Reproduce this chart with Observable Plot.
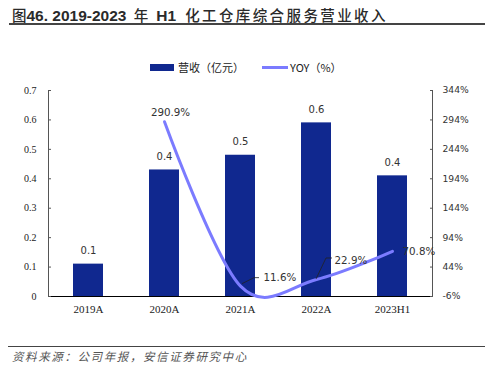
<!DOCTYPE html>
<html><head><meta charset="utf-8">
<script src="https://cdn.jsdelivr.net/npm/d3@7"></script>
<script src="https://cdn.jsdelivr.net/npm/@observablehq/plot@0.6"></script>
<style>
body{margin:0;background:#fff}
#wrap{position:relative;width:485px;height:380px;overflow:hidden;background:#fff}
#title{position:absolute;left:12px;top:4px;height:20px;line-height:20px;color:#2a2a2a;white-space:nowrap}
#title .b{font:bold 15.5px "Liberation Sans",Arial,sans-serif}
#title .c{font:500 14.5px "Noto Sans CJK SC",sans-serif}
#title .w{letter-spacing:2.4px}
#tline{position:absolute;left:9px;top:23px;width:476px;height:2px;background:#444}
#legend{position:absolute;left:150px;top:58px;height:18px;font:11px "Noto Sans CJK SC",sans-serif;color:#222;white-space:nowrap}
#legend span{position:absolute;top:0;line-height:18px}
.sw{position:absolute}
#sline{position:absolute;left:8px;top:346px;width:477px;height:1px;background:#444}
#source{position:absolute;left:12px;top:348px;font:italic 11.5px "Noto Sans CJK SC",sans-serif;color:#555;letter-spacing:1.6px;white-space:nowrap}
#chart{position:absolute;left:0;top:0}
</style></head><body><div id="wrap">
<div id="chart"></div>
<div id="title"><span class="c">图</span><span class="b">46. 2019-2023 </span><span class="c" style="margin-left:3px">年</span><span class="b" style="margin-left:8px">H1</span><span class="c w" style="margin-left:9px">化工仓库综合服务营业收入</span></div>
<div id="tline"></div>
<div id="legend">
  <div class="sw" style="left:0;top:6px;width:24px;height:7px;background:#10288f"></div>
  <span style="left:28px">营收（亿元）</span>
  <div class="sw" style="left:112px;top:8px;width:26px;height:3px;background:#7b7bff"></div>
  <span style="left:140px">YOY（%）</span>
</div>
<div id="sline"></div>
<div id="source">资料来源：公司年报，安信证券研究中心</div>
</div>
<script>
const categories = ["2019A", "2020A", "2021A", "2022A", "2023H1"];
const revenue = [0.11, 0.43, 0.48, 0.59, 0.41];
const revenueLabels = ["0.1", "0.4", "0.5", "0.6", "0.4"];
const yoy = [null, 290.9, 11.6, 22.9, 70.8];
const yoyLabels = [null, "290.9%", "11.6%", "22.9%", "70.8%"];
const leftTicks = [0, 0.1, 0.2, 0.3, 0.4, 0.5, 0.6, 0.7];
const rightTicks = [-6, 44, 94, 144, 194, 244, 294, 344];

const yMax = 0.7, rMin = -6, rMax = 344;
const toLeft = v => (v - rMin) / (rMax - rMin) * yMax;

const table = categories.map((c, i) => ({
  cat: c, rev: revenue[i], revLabel: revenueLabels[i],
  yoy: yoy[i], yoyY: yoy[i] == null ? null : toLeft(yoy[i]), yoyLabel: yoyLabels[i]
}));
const lineData = table.filter(d => d.yoy != null);
// label offsets (pixels) for the YOY labels
const yoyLabelPos = {"2020A": {dx: 6, dy: -9, anchor: "middle"}, "2021A": {dx: 23, dy: -8, anchor: "start"}, "2022A": {dx: 18, dy: -19, anchor: "start"}, "2023H1": {dx: 10, dy: 0, anchor: "start"}};

const serif = "'Liberation Serif', 'Times New Roman', serif";
const sans = "'DejaVu Sans', sans-serif";

const chart = Plot.plot({
  width: 485, height: 380,
  marginTop: 90, marginBottom: 84, marginLeft: 48, marginRight: 53,
  style: {background: "transparent", overflow: "visible"},
  x: {type: "band", domain: categories, paddingInner: 0.6, paddingOuter: 0.3},
  y: {domain: [0, yMax]},
  marks: [
    Plot.barY(table, {x: "cat", y: "rev", fill: "#10288f"}),
    Plot.frame({anchor: "left", stroke: "#555"}),
    Plot.frame({anchor: "right", stroke: "#555"}),
    Plot.ruleY([0], {stroke: "#000", strokeWidth: 1.2}),
    Plot.axisY(leftTicks, {anchor: "left", tickSize: -3, tickPadding: 15, stroke: "#555",
      tickFormat: d => d === 0 ? "0" : d3.format(".1f")(d),
      fontFamily: serif, fontSize: 10, fill: "#222", label: null}),
    Plot.axisY(rightTicks.map(toLeft), {anchor: "right", tickSize: -3, tickPadding: 13, stroke: "#555",
      tickFormat: d => Math.round(d / yMax * (rMax - rMin) + rMin) + "%",
      fontFamily: sans, fontSize: 9.2, fill: "#333", label: null}),
    Plot.axisX({tickSize: 0, tickPadding: 9, fontFamily: serif, fontSize: 11, fill: "#222", label: null}),
    Plot.text(table, {x: "cat", y: "rev", text: "revLabel", dy: -13, fontFamily: sans, fontSize: 10, fill: "#333"}),
    Plot.line(lineData, {x: "cat", y: "yoyY", stroke: "#7b7bff", strokeWidth: 3, curve: "cardinal"}),
    ...lineData.map(d => Plot.text([d], {x: "cat", y: "yoyY", text: "yoyLabel",
      dx: yoyLabelPos[d.cat].dx, dy: yoyLabelPos[d.cat].dy, textAnchor: yoyLabelPos[d.cat].anchor,
      fontFamily: sans, fontSize: 10.3, fill: "#333"}))
  ]
});
document.getElementById("chart").appendChild(chart);

// leader lines for two labels, placed from the plot's own scales
const xs = chart.scale("x"), ys = chart.scale("y");
const leaders = [
  {cat: "2021A", pts: [[2, -2], [14, -8], [19, -8]]},
  {cat: "2022A", pts: [[0, 0], [10, -21], [16, -21]]}
];
const svg = d3.select(chart.tagName.toLowerCase() === "svg" ? chart : chart.querySelector("svg"));
for (const l of leaders) {
  const d = table.find(t => t.cat === l.cat);
  const px = xs.apply(d.cat) + xs.bandwidth / 2, py = ys.apply(d.yoyY);
  svg.append("path")
    .attr("d", d3.line()(l.pts.map(([a, b]) => [px + a, py + b])))
    .attr("fill", "none").attr("stroke", "#222").attr("stroke-width", 0.8);
}
</script>
</body></html>
